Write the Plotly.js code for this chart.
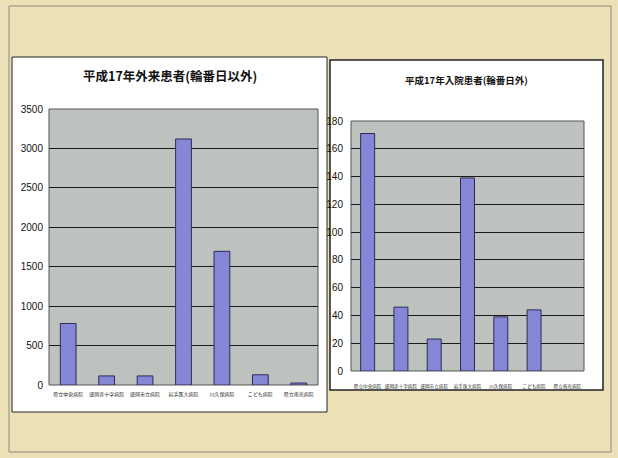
<!DOCTYPE html>
<html>
<head>
<meta charset="utf-8">
<script src="https://cdn.plot.ly/plotly-3.0.1.min.js"></script>
<style>
html,body{margin:0;padding:0;background:#ece0b6;}
#chart{width:618px;height:458px;}
</style>
</head>
<body>
<div id="chart"></div>
<script>
// ---- data ----
const outpatientTitle = "平成17年外来患者(輪番日以外)";
const inpatientTitle = "平成17年入院患者(輪番日外)";
const hospitals = ["県立中央病院", "盛岡赤十字病院", "盛岡市立病院", "岩手医大病院", "川久保病院", "こども病院", "県立南光病院"];
const outpatients = [780, 115, 115, 3120, 1695, 130, 25];
const inpatients = [171, 46, 23, 139, 39, 44, 0];

const W = 618, H = 458;
const px = v => v / W;
const py = v => 1 - v / H;

const barColor = '#8686d6';
const barLine = '#2c2c55';
const cjk = '"Noto Sans CJK JP", "Noto Sans", sans-serif';
const narrow = '"Liberation Sans Narrow", "Liberation Sans", Arial, sans-serif';

const traces = [
  {type: 'bar', x: hospitals, y: outpatients, xaxis: 'x', yaxis: 'y', width: 0.41,
   marker: {color: barColor, line: {color: barLine, width: outpatients.map(v => v > 0 ? 1 : 0)}}, hoverinfo: 'x+y'},
  {type: 'bar', x: hospitals, y: inpatients, xaxis: 'x2', yaxis: 'y2', width: 0.42,
   marker: {color: barColor, line: {color: barLine, width: inpatients.map(v => v > 0 ? 1 : 0)}}, hoverinfo: 'x+y'}
];

const gridCol = '#1a1a1a';
const plotGrey = '#bec2be';

const layout = {
  width: W, height: H,
  margin: {l: 0, r: 0, t: 0, b: 0},
  paper_bgcolor: '#ece0b6',
  plot_bgcolor: 'rgba(0,0,0,0)',
  showlegend: false,
  bargap: 0,
  xaxis: {domain: [px(49), px(318)], anchor: 'y', type: 'category',
    showgrid: false, zeroline: false, showline: false, ticks: '', tickangle: 0,
    tickfont: {family: cjk, size: 5, color: '#222'}, ticklabelstandoff: 5, automargin: false, fixedrange: true},
  yaxis: {domain: [py(385), py(109)], anchor: 'x', range: [0, 3500], tick0: 0, dtick: 500,
    showgrid: true, gridcolor: gridCol, gridwidth: 1, zeroline: false, showline: false, ticks: '',
    tickfont: {family: narrow, size: 10, color: '#111'}, ticklabelstandoff: 5, automargin: false, fixedrange: true},
  xaxis2: {domain: [px(351), px(584)], anchor: 'y2', type: 'category',
    showgrid: false, zeroline: false, showline: false, ticks: '', tickangle: 0,
    tickfont: {family: cjk, size: 4.6, color: '#222'}, ticklabelstandoff: 11, automargin: false, fixedrange: true},
  yaxis2: {domain: [py(371), py(121)], anchor: 'x2', range: [0, 180], tick0: 0, dtick: 20,
    showgrid: true, gridcolor: gridCol, gridwidth: 1, zeroline: false, showline: false, ticks: '',
    tickfont: {family: narrow, size: 10, color: '#111'}, ticklabelstandoff: 7, automargin: false, fixedrange: true},
  shapes: [
    // outer frame
    {type: 'rect', xref: 'paper', yref: 'paper', x0: px(9), x1: px(611), y0: py(452), y1: py(6),
     line: {color: '#8a8a80', width: 1}, fillcolor: 'rgba(0,0,0,0)', layer: 'below'},
    // left white box
    {type: 'rect', xref: 'paper', yref: 'paper', x0: px(12), x1: px(327), y0: py(412), y1: py(57),
     line: {color: '#222', width: 1}, fillcolor: '#ffffff', layer: 'below'},
    // right white box
    {type: 'rect', xref: 'paper', yref: 'paper', x0: px(330), x1: px(603), y0: py(390), y1: py(60),
     line: {color: '#222', width: 1.5}, fillcolor: '#ffffff', layer: 'below'},
    // left plot area
    {type: 'rect', xref: 'x domain', yref: 'y domain', x0: 0, x1: 1, y0: 0, y1: 1,
     line: {color: '#555', width: 1}, fillcolor: plotGrey, layer: 'below'},
    // right plot area
    {type: 'rect', xref: 'x2 domain', yref: 'y2 domain', x0: 0, x1: 1, y0: 0, y1: 1,
     line: {color: '#555', width: 1}, fillcolor: plotGrey, layer: 'below'}
  ],
  annotations: [
    {text: '<b>' + outpatientTitle + '</b>', xref: 'paper', yref: 'paper', x: px(170), y: py(76),
     xanchor: 'center', yanchor: 'middle', showarrow: false, font: {family: cjk, size: 12.5, color: '#111'}},
    {text: '<b>' + inpatientTitle + '</b>', xref: 'paper', yref: 'paper', x: px(466), y: py(80),
     xanchor: 'center', yanchor: 'middle', showarrow: false, font: {family: cjk, size: 9.5, color: '#111'}}
  ]
};

Plotly.newPlot('chart', traces, layout, {displayModeBar: false, staticPlot: true});
</script>
</body>
</html>
